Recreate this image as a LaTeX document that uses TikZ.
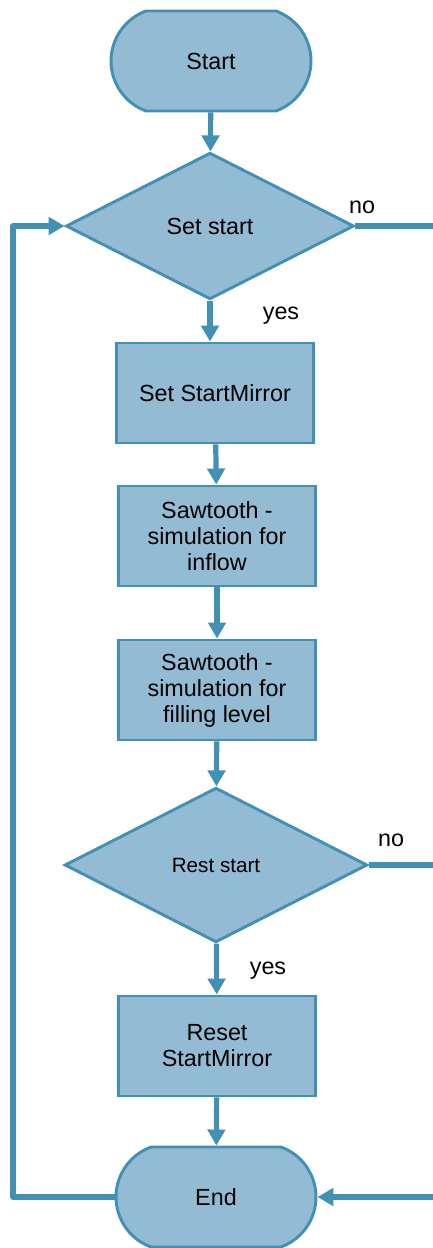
\documentclass[tikz,border=0pt]{standalone}
\usepackage{fontspec}
\setmainfont{Liberation Sans}
\usetikzlibrary{shapes.geometric,shapes.misc,arrows.meta}
\definecolor{flowfill}{RGB}{147,187,211}
\definecolor{flowline}{RGB}{66,145,180}

\begin{document}
\begin{tikzpicture}[x=0.75pt,y=-0.75pt,
  every node/.style={font=\fontsize{17.5}{19.5}\selectfont},
  terminal/.style={rounded rectangle,rounded rectangle arc length=140,draw=flowline,fill=flowfill,line width=2.2pt,minimum width=150pt,minimum height=75pt,inner sep=0pt},
  decision/.style={diamond,draw=flowline,fill=flowfill,line width=2.2pt,inner sep=0pt},
  process/.style={rectangle,draw=flowline,fill=flowfill,line width=2.2pt,minimum width=148pt,minimum height=75pt,align=center,inner sep=0pt},
  conn/.style={draw=flowline,line width=3.9pt,line join=round},
  arr/.style={conn,-{Triangle[width=13pt,length=12pt]}}]
\useasboundingbox (0,0) rectangle (432,1248);
% start and end
\node[terminal] (start) at (211,61) {Start};
\node[terminal] (end) at (216,1197) {End};
% decisions
\node[decision,minimum width=216pt,minimum height=110pt] (setstart) at (210,226) {Set start};
\node[decision,minimum width=227pt,minimum height=116pt,font=\fontsize{15.5}{18}\selectfont] (reststart) at (216,865) {Rest start};
% processes
\node[process] (setmirror) at (215,393) {Set StartMirror};
\node[process] (sawinflow) at (217,536) {Sawtooth -\\simulation for\\inflow};
\node[process] (sawlevel) at (217,690) {Sawtooth -\\simulation for\\filling level};
\node[process] (resetmirror) at (217,1046) {Reset\\StartMirror};
% labels
\node (no1) at (362,207) {no};
\node (yes1) at (281,316) {yes};
\node (no2) at (391,840) {no};
\node (yes2) at (268,971) {yes};
% free ends
\coordinate (loop) at (13,1197);
\coordinate (out1) at (436,226);
\coordinate (out2) at (436,865);
\coordinate (in2) at (436,1197);
% main line
\draw[arr] (start) -- (setstart);
\draw[arr] (setstart) -- (setstart.south |- setmirror.north);
\draw[arr] (setmirror) -- (sawinflow);
\draw[arr] (sawinflow) -- (sawlevel);
\draw[arr] (sawlevel) -- (reststart);
\draw[arr] (reststart) -- (resetmirror);
\draw[arr] (resetmirror) -- (end);
% branches
\draw[conn] (setstart.east) -- (out1);
\draw[conn] (reststart.east) -- (out2);
\draw[arr] (in2) -- (end.east);
\draw[arr] (end.west) -- (loop) |- (setstart.west);
\end{tikzpicture}
\end{document}
